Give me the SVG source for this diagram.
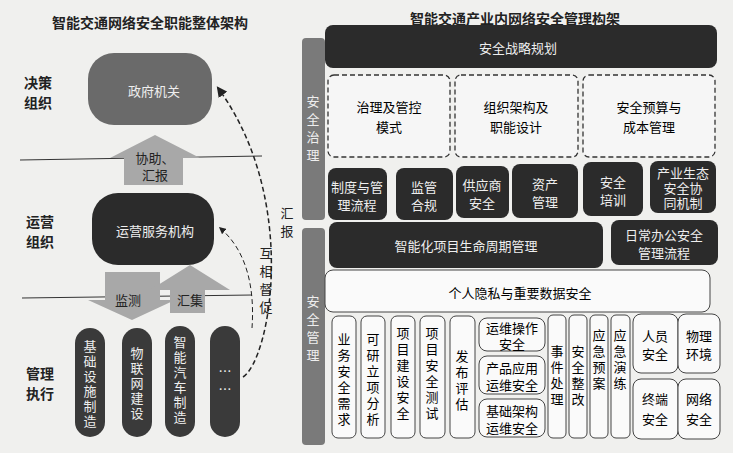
<svg xmlns="http://www.w3.org/2000/svg" width="733" height="453" viewBox="0 0 733 453">
<style>
text{font-family:"Noto Sans CJK SC","Noto Sans",sans-serif;font-size:13px;text-anchor:middle;dominant-baseline:central}
.w{fill:#eee}.k{fill:#222}
.dk{fill:#2b2b2b}
.bx{fill:#fafafa;stroke:#444;stroke-width:1}
.ds{fill:#f6f6f6;stroke:#333;stroke-width:1.3;stroke-dasharray:5 3}
.lbl{font-size:14px;font-weight:bold;fill:#222}
</style>
<defs><marker id="ah" viewBox="0 0 10 10" refX="8" refY="5" markerWidth="7" markerHeight="7" orient="auto"><path d="M0,0L10,5L0,10z" fill="#222"/></marker></defs>
<rect width="733" height="453" fill="#f0f0ee"/>
<text x="150" y="22" class="lbl">智能交通网络安全职能整体架构</text>
<text x="515" y="18" class="lbl">智能交通产业内网络安全管理构架</text>
<text x="38" y="82" class="lbl">决策</text><text x="38" y="102" class="lbl">组织</text>
<text x="40" y="221" class="lbl">运营</text><text x="40" y="241" class="lbl">组织</text>
<text x="40" y="373" class="lbl">管理</text><text x="40" y="393" class="lbl">执行</text>
<g id="lines" stroke="#333" stroke-width="1"><line x1="20" y1="160" x2="262" y2="156"/><line x1="22" y1="298" x2="252" y2="295"/></g>
<g id="gov"><rect x="88" y="53" width="124" height="72" rx="26" fill="#6a6a6a"/><text x="154" y="90" class="w">政府机关</text></g>
<g id="ops"><rect x="92" y="193" width="122" height="72" rx="26" class="dk"/><text x="155" y="230" class="w">运营服务机构</text></g>
<g id="arrows" fill="#a8a8a8">
<path d="M124,185V158H110L155,135L200,158H183V185Z"/><text x="155" y="157" class="k">协助、</text><text x="155" y="174" class="k">汇报</text>
<path d="M105,272H160V300H175L132,320L88,300H105Z"/><text x="128" y="299" class="k">监测</text>
<path d="M170,313V290H150L190,265L230,290H205V313Z"/><text x="190" y="299" class="k">汇集</text>
</g>
<g id="exec" fill="#3a3a3a">
<rect x="75" y="328" width="30" height="109" rx="15"/><rect x="122" y="328" width="30" height="109" rx="15"/><rect x="165" y="326" width="30" height="111" rx="15"/><rect x="210" y="326" width="30" height="111" rx="15"/>
<text class="w" x="90" y="345">基<tspan x="90" dy="15">础</tspan><tspan x="90" dy="15">设</tspan><tspan x="90" dy="15">施</tspan><tspan x="90" dy="15">制</tspan><tspan x="90" dy="15">造</tspan></text>
<text class="w" x="137" y="352">物<tspan x="137" dy="15">联</tspan><tspan x="137" dy="15">网</tspan><tspan x="137" dy="15">建</tspan><tspan x="137" dy="15">设</tspan></text>
<text class="w" x="180" y="341">智<tspan x="180" dy="15">能</tspan><tspan x="180" dy="15">汽</tspan><tspan x="180" dy="15">车</tspan><tspan x="180" dy="15">制</tspan><tspan x="180" dy="15">造</tspan></text>
<text x="225" y="370" class="w">…</text><text x="225" y="388" class="w">…</text>
</g>
<g id="connectors" fill="none" stroke="#222" stroke-width="1.5" stroke-dasharray="5 3">
<path d="M243,377C270,360 300,200 218,88" marker-end="url(#ah)"/>
<path d="M252,328C254,300 252,255 220,228" stroke-width="1" marker-end="url(#ah)"/>
</g>
<text x="287" y="212" class="k">汇</text><text x="287" y="230" class="k">报</text>
<text class="k" x="266" y="252">互<tspan x="266" dy="18">相</tspan><tspan x="266" dy="18">督</tspan><tspan x="266" dy="18">促</tspan></text>
<g id="sidebars" fill="#7a7a7a">
<rect x="302" y="38" width="23" height="182" rx="4"/><rect x="302" y="228" width="23" height="217" rx="4"/>
<text class="w" x="313" y="100">安<tspan x="313" dy="18">全</tspan><tspan x="313" dy="18">治</tspan><tspan x="313" dy="18">理</tspan></text>
<text class="w" x="313" y="300">安<tspan x="313" dy="18">全</tspan><tspan x="313" dy="18">管</tspan><tspan x="313" dy="18">理</tspan></text>
</g>
<g id="top"><rect x="325" y="25" width="392" height="43" rx="8" class="dk"/><text x="518" y="47" class="w">安全战略规划</text></g>
<g id="dashed">
<rect x="328" y="75" width="122" height="82" rx="6" class="ds"/><text x="389" y="106">治理及管控</text><text x="389" y="126">模式</text>
<rect x="455" y="75" width="123" height="82" rx="6" class="ds"/><text x="516" y="106">组织架构及</text><text x="516" y="126">职能设计</text>
<rect x="583" y="75" width="132" height="82" rx="6" class="ds"/><text x="649" y="106">安全预算与</text><text x="649" y="126">成本管理</text>
</g>
<g id="gov-row">
<rect x="328" y="168" width="59" height="52" rx="8" class="dk"/><text x="357" y="186" class="w">制度与管</text><text x="357" y="204" class="w">理流程</text>
<rect x="396" y="168" width="57" height="52" rx="8" class="dk"/><text x="424" y="186" class="w">监管</text><text x="424" y="204" class="w">合规</text>
<rect x="456" y="166" width="53" height="52" rx="8" class="dk"/><text x="482" y="184" class="w">供应商</text><text x="482" y="202" class="w">安全</text>
<rect x="512" y="164" width="66" height="54" rx="8" class="dk"/><text x="545" y="183" class="w">资产</text><text x="545" y="201" class="w">管理</text>
<rect x="583" y="162" width="60" height="54" rx="8" class="dk"/><text x="613" y="181" class="w">安全</text><text x="613" y="199" class="w">培训</text>
<rect x="650" y="161" width="66" height="52" rx="8" class="dk"/><g style="font-size:12px"><text x="683" y="172" class="w">产业生态</text><text x="683" y="187" class="w">安全协</text><text x="683" y="202" class="w">同机制</text></g>
</g>
<g id="mgmt-row">
<rect x="329" y="222" width="274" height="46" rx="8" class="dk"/><text x="466" y="245" class="w">智能化项目生命周期管理</text>
<rect x="611" y="220" width="107" height="45" rx="8" class="dk"/><text x="664" y="234" class="w">日常办公安全</text><text x="664" y="252" class="w">管理流程</text>
</g>
<g id="privacy"><rect x="325" y="270" width="385" height="42" rx="8" class="bx"/><text x="520" y="292">个人隐私与重要数据安全</text></g>
<g id="cols">
<rect x="332" y="316" width="24" height="122" rx="6" class="bx"/><text x="344" y="338">业<tspan x="344" dy="16">务</tspan><tspan x="344" dy="16">安</tspan><tspan x="344" dy="16">全</tspan><tspan x="344" dy="16">需</tspan><tspan x="344" dy="16">求</tspan></text>
<rect x="361" y="316" width="24" height="122" rx="6" class="bx"/><text x="373" y="338">可<tspan x="373" dy="16">研</tspan><tspan x="373" dy="16">立</tspan><tspan x="373" dy="16">项</tspan><tspan x="373" dy="16">分</tspan><tspan x="373" dy="16">析</tspan></text>
<rect x="391" y="316" width="24" height="122" rx="6" class="bx"/><text x="403" y="332">项<tspan x="403" dy="16">目</tspan><tspan x="403" dy="16">建</tspan><tspan x="403" dy="16">设</tspan><tspan x="403" dy="16">安</tspan><tspan x="403" dy="16">全</tspan></text>
<rect x="420" y="316" width="25" height="122" rx="6" class="bx"/><text x="432" y="332">项<tspan x="432" dy="16">目</tspan><tspan x="432" dy="16">安</tspan><tspan x="432" dy="16">全</tspan><tspan x="432" dy="16">测</tspan><tspan x="432" dy="16">试</tspan></text>
<rect x="450" y="316" width="25" height="122" rx="6" class="bx"/><text x="462" y="355">发<tspan x="462" dy="16">布</tspan><tspan x="462" dy="16">评</tspan><tspan x="462" dy="16">估</tspan></text>
<rect x="479" y="318" width="66" height="33" rx="8" class="bx"/><text x="512" y="327">运维操作</text><text x="512" y="343">安全</text>
<rect x="479" y="356" width="66" height="38" rx="8" class="bx"/><text x="512" y="367">产品应用</text><text x="512" y="384">运维安全</text>
<rect x="479" y="399" width="66" height="38" rx="8" class="bx"/><text x="512" y="410">基础架构</text><text x="512" y="427">运维安全</text>
<rect x="548" y="315" width="18" height="123" rx="5" class="bx"/><text x="557" y="350">事<tspan x="557" dy="16">件</tspan><tspan x="557" dy="16">处</tspan><tspan x="557" dy="16">理</tspan></text>
<rect x="569" y="315" width="18" height="123" rx="5" class="bx"/><text x="578" y="350">安<tspan x="578" dy="16">全</tspan><tspan x="578" dy="16">整</tspan><tspan x="578" dy="16">改</tspan></text>
<rect x="590" y="315" width="18" height="123" rx="5" class="bx"/><text x="599" y="334">应<tspan x="599" dy="16">急</tspan><tspan x="599" dy="16">预</tspan><tspan x="599" dy="16">案</tspan></text>
<rect x="611" y="315" width="19" height="123" rx="5" class="bx"/><text x="620" y="334">应<tspan x="620" dy="16">急</tspan><tspan x="620" dy="16">演</tspan><tspan x="620" dy="16">练</tspan></text>
<rect x="633" y="314" width="45" height="59" rx="8" class="bx"/><text x="655" y="335">人员</text><text x="655" y="353">安全</text>
<rect x="678" y="314" width="42" height="59" rx="8" class="bx"/><text x="699" y="335">物理</text><text x="699" y="353">环境</text>
<rect x="633" y="379" width="45" height="60" rx="8" class="bx"/><text x="655" y="398">终端</text><text x="655" y="418">安全</text>
<rect x="678" y="379" width="42" height="60" rx="8" class="bx"/><text x="699" y="398">网络</text><text x="699" y="418">安全</text>
</g>
</svg>
